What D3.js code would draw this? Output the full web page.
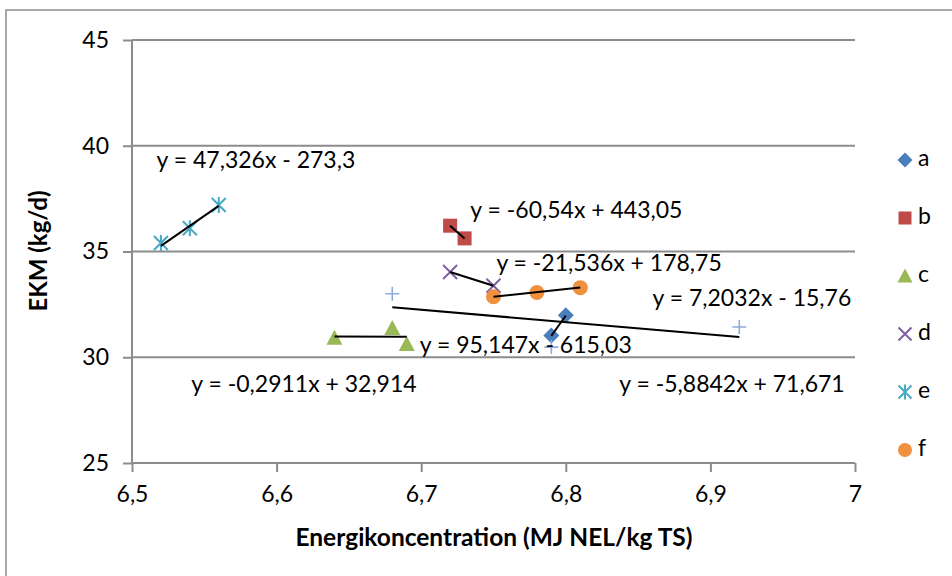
<!DOCTYPE html>
<html><head><meta charset="utf-8">
<script src="https://cdn.jsdelivr.net/npm/d3@7"></script>
<style>body{margin:0;background:#fff;}svg{display:block;font-family:Lato,"Noto Sans",sans-serif;}</style>
</head><body><svg id="c" width="952" height="576"></svg>
<script>
// ---- data ----
const seriesNames = ["a","b","c","d","e","f","g"];
const xA = [6.79, 6.80],        yA = [31.03, 31.98];
const xB = [6.72, 6.73],        yB = [36.22, 35.62];
const xC = [6.64, 6.68, 6.69],  yC = [30.92, 31.38, 30.63];
const xD = [6.72, 6.75],        yD = [34.03, 33.38];
const xE = [6.52, 6.54, 6.56],  yE = [35.40, 36.10, 37.20];
const xF = [6.75, 6.78, 6.81],  yF = [32.86, 33.06, 33.29];
const xG = [6.68, 6.79, 6.92],  yG = [33.00, 30.48, 31.43];
const slopes     = [95.147, -60.54, -0.2911, -21.536, 47.326, 7.2032, -5.8842];
const intercepts = [-615.03, 443.05, 32.914, 178.75, -273.3, -15.76, 71.671];
const eqLabels = ["y = 95,147x - 615,03","y = -60,54x + 443,05","y = -0,2911x + 32,914",
  "y = -21,536x + 178,75","y = 47,326x - 273,3","y = 7,2032x - 15,76","y = -5,8842x + 71,671"];
const xTicks = [6.5, 6.6, 6.7, 6.8, 6.9, 7.0];
const xTickLabels = ["6,5","6,6","6,7","6,8","6,9","7"];
const yTicks = [25, 30, 35, 40, 45];
const xTitle = "Energikoncentration (MJ NEL/kg TS)";
const yTitle = "EKM (kg/d)";

// ---- layout / style ----
const colors = ["#4A7EBB","#BE4B48","#98B954","#7D60A0","#46AAC5","#F0913F","#8FAADC"];
const shapes = ["diamond","square","triangle","x","star","circle","plus"];
// equation label anchors (data coords, left / middle), order a..g
const labelAnchor = [[6.699,30.48],[6.734,36.87],[6.541,28.64],[6.752,34.36],[6.517,39.23],[6.86,32.71],[6.837,28.64]];

const svg = d3.select("#c");
const x = d3.scaleLinear().domain([6.5, 7]).range([132, 855]);
const y = d3.scaleLinear().domain([25, 45]).range([463, 40]);
const grey = "#8c8c8c";
const FS = "23px";

// outer border
svg.append("rect").attr("x",6).attr("y",10).attr("width",1000).attr("height",700)
  .attr("fill","none").attr("stroke",grey).attr("stroke-width",1.5);

// gridlines
svg.append("g").selectAll("line").data(yTicks.slice(1)).join("line")
  .attr("x1",x(6.5)).attr("x2",x(7)).attr("y1",d=>y(d)).attr("y2",d=>y(d))
  .attr("stroke",grey).attr("stroke-width",2);

// y axis
const yAx = svg.append("g").attr("transform",`translate(${x(6.5)},0)`)
  .call(d3.axisLeft(y).tickValues(yTicks).tickSize(9).tickPadding(14).tickFormat(d3.format("d")));
// x axis
const xAx = svg.append("g").attr("transform",`translate(0,${y(25)})`)
  .call(d3.axisBottom(x).tickValues(xTicks).tickSize(9).tickPadding(14).tickFormat((d,i)=>xTickLabels[i]));
[yAx,xAx].forEach(g=>{
  g.select(".domain").attr("stroke",grey).attr("stroke-width",2);
  g.selectAll(".tick line").attr("stroke",grey).attr("stroke-width",2);
  g.selectAll(".tick text").attr("fill","#000").style("font-size",FS).style("font-family","Lato,sans-serif");
});
xAx.select(".domain").attr("d",`M${x(6.5)},0H${x(7)}`);
yAx.select(".domain").attr("d",`M0,${y(45)}V${y(25)}`);

// titles
svg.append("text").attr("x",494).attr("y",546).attr("text-anchor","middle")
  .style("font-size","24.5px").style("font-weight","bold").text(xTitle);
svg.append("text").attr("transform","translate(47,251) rotate(-90)").attr("text-anchor","middle")
  .style("font-size","24px").style("font-weight","bold").text(yTitle);

// markers
function marker(g, shape, color, s){
  const r = s/2;
  if(shape==="diamond") g.append("path").attr("d",`M0,${-r-1}L${r+1},0L0,${r+1}L${-r-1},0Z`).attr("fill",color);
  else if(shape==="square") g.append("rect").attr("x",-r).attr("y",-r).attr("width",s).attr("height",s).attr("fill",color);
  else if(shape==="triangle") g.append("path").attr("d",`M0,${-r-1}L${r+1},${r}L${-r-1},${r}Z`).attr("fill",color);
  else if(shape==="circle") g.append("circle").attr("r",r+0.5).attr("fill",color);
  else if(shape==="x") g.append("path").attr("d",`M${-r},${-r}L${r},${r}M${r},${-r}L${-r},${r}`).attr("stroke",color).attr("stroke-width",2);
  else if(shape==="star") g.append("path").attr("d",`M${-r},${-r}L${r},${r}M${r},${-r}L${-r},${r}M0,${-r-1}V${r+1}`).attr("stroke",color).attr("stroke-width",2);
  else if(shape==="plus") g.append("path").attr("d",`M${-r},0H${r}M0,${-r}V${r}`).attr("stroke",color).attr("stroke-width",1.6);
}
const allX = [xA,xB,xC,xD,xE,xF,xG], allY = [yA,yB,yC,yD,yE,yF,yG];
allX.forEach((xs,i)=>{
  xs.forEach((xv,j)=>{
    const g = svg.append("g").attr("transform",`translate(${x(xv)},${y(allY[i][j])})`);
    marker(g, shapes[i], colors[i], 14);
  });
});
// trendlines
allX.forEach((xs,i)=>{
  const [x0,x1] = d3.extent(xs);
  svg.append("line").attr("x1",x(x0)).attr("x2",x(x1))
    .attr("y1",y(slopes[i]*x0+intercepts[i])).attr("y2",y(slopes[i]*x1+intercepts[i]))
    .attr("stroke","#000").attr("stroke-width",2);
});
// equation labels
eqLabels.forEach((t,i)=>{
  const p = labelAnchor[i];
  svg.append("text").attr("x",x(p[0])).attr("y",y(p[1])).attr("dominant-baseline","middle")
    .style("font-size",FS).text(t);
});
// legend
seriesNames.slice(0,6).forEach((n,i)=>{
  const cy = 160 + i*58;
  const g = svg.append("g").attr("transform",`translate(905,${cy})`);
  marker(g, shapes[i], colors[i], 13);
  svg.append("text").attr("x",918).attr("y",cy).attr("dominant-baseline","middle").style("font-size",FS).text(n);
});
</script></body></html>
